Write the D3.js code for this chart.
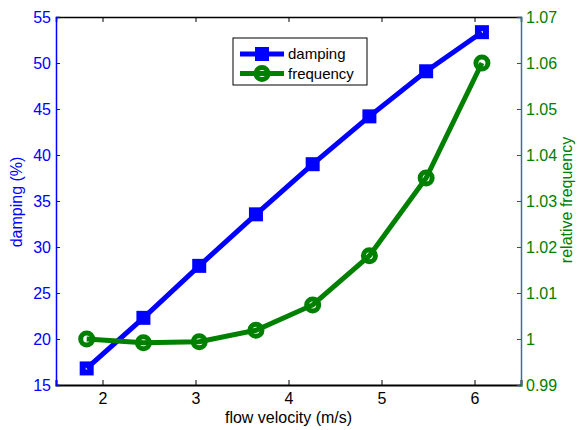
<!DOCTYPE html>
<html>
<head>
<meta charset="utf-8">
<script src="https://cdn.jsdelivr.net/npm/d3@7"></script>
<style>
  body { margin: 0; background: #fff; }
  text { font-family: "Liberation Sans", Arial, sans-serif; }
</style>
</head>
<body>
<div></div>
<script>
// data
var velocity = [1.83, 2.44, 3.04, 3.65, 4.26, 4.87, 5.48, 6.08];
var damping = [16.8, 22.3, 27.95, 33.55, 39.0, 44.2, 49.1, 53.35];
var frequency = [1.0, 0.9992, 0.9994, 1.0019, 1.0074, 1.0181, 1.035, 1.06];
var xTicks = [2, 3, 4, 5, 6];
var leftTicks = [15, 20, 25, 30, 35, 40, 45, 50, 55];
var rightTicks = [0.99, 1, 1.01, 1.02, 1.03, 1.04, 1.05, 1.06, 1.07];

var blue = "#0000ff", green = "#008000";
var W = 577, H = 430;
var m = { left: 56, right: 56, top: 17, bottom: 45 };

var svg = d3.select("div").append("svg").attr("width", W).attr("height", H);

var x = d3.scaleLinear().domain([1.5, 6.5]).range([m.left, W - m.right]);
var yL = d3.scaleLinear().domain([15, 55]).range([H - m.bottom, m.top]);
var yR = d3.scaleLinear().domain([0.99, 1.07]).range([H - m.bottom, m.top]);

var x0 = m.left, x1 = W - m.right, y0 = H - m.bottom, y1 = m.top;

// bottom axis
var bottomAx = svg.append("g").attr("transform", "translate(0," + y0 + ")")
  .call(d3.axisBottom(x).tickValues(xTicks).tickSize(-5).tickPadding(8).tickFormat(d3.format("d")));
bottomAx.select(".domain").attr("stroke", "#000").attr("stroke-width", 2);
bottomAx.selectAll("text").style("font-size", "16px").attr("fill", "#000");

// top axis (ticks only)
var topAx = svg.append("g").attr("transform", "translate(0," + y1 + ")")
  .call(d3.axisTop(x).tickValues(xTicks).tickSize(-5).tickFormat(""));
topAx.select(".domain").attr("stroke", "#000").attr("stroke-width", 1.5);

// left axis
var leftAx = svg.append("g").attr("transform", "translate(" + x0 + ",0)")
  .call(d3.axisLeft(yL).tickValues(leftTicks).tickSize(-4).tickPadding(5).tickFormat(d3.format("d")));
leftAx.select(".domain").attr("stroke", blue).attr("stroke-width", 1.5);
leftAx.selectAll(".tick line").attr("stroke", blue);
leftAx.selectAll("text").style("font-size", "16px").attr("fill", blue);

// right axis
var rightAx = svg.append("g").attr("transform", "translate(" + x1 + ",0)")
  .call(d3.axisRight(yR).tickValues(rightTicks).tickSize(-4).tickPadding(5).tickFormat(function(d) { return String(+d.toFixed(2)); }));
rightAx.select(".domain").attr("stroke", "#3a6ea0").attr("stroke-width", 1.5);
rightAx.selectAll(".tick line").attr("stroke", green);
rightAx.selectAll("text").style("font-size", "16px").attr("fill", green);

// axis titles
svg.append("text").attr("x", (x0 + x1) / 2).attr("y", 423).attr("text-anchor", "middle")
  .style("font-size", "16px").text("flow velocity (m/s)");
svg.append("text").attr("transform", "translate(22,202) rotate(-90)")
  .attr("text-anchor", "middle").style("font-size", "16px").attr("fill", blue).text("damping (%)");
svg.append("text").attr("transform", "translate(572,200) rotate(-90)")
  .attr("text-anchor", "middle").style("font-size", "16px").attr("fill", green).text("relative frequency");

// series
var pts = velocity.map(function(v, i) { return { v: v, d: damping[i], f: frequency[i] }; });

var lineD = d3.line().x(function(p) { return x(p.v); }).y(function(p) { return yL(p.d); });
var lineF = d3.line().x(function(p) { return x(p.v); }).y(function(p) { return yR(p.f); });

svg.append("path").attr("d", lineD(pts)).attr("fill", "none").attr("stroke", blue).attr("stroke-width", 5);
svg.selectAll("rect.sq").data(pts).enter().append("rect").attr("class", "sq")
  .attr("x", function(p) { return x(p.v) - 4; }).attr("y", function(p) { return yL(p.d) - 4; })
  .attr("width", 8).attr("height", 8).attr("fill", "none").attr("stroke", blue).attr("stroke-width", 6);

svg.append("path").attr("d", lineF(pts)).attr("fill", "none").attr("stroke", green).attr("stroke-width", 5);
svg.selectAll("circle.ci").data(pts).enter().append("circle").attr("class", "ci")
  .attr("cx", function(p) { return x(p.v); }).attr("cy", function(p) { return yR(p.f); })
  .attr("r", 6).attr("fill", "none").attr("stroke", green).attr("stroke-width", 5);

// legend
var lg = svg.append("g");
lg.append("rect").attr("x", 233).attr("y", 38).attr("width", 134).attr("height", 47)
  .attr("fill", "#fff").attr("stroke", "#000").attr("stroke-width", 1);
var entries = [
  { name: "damping", color: blue, y: 54, mark: "sq" },
  { name: "frequency", color: green, y: 73.5, mark: "ci" }
];
entries.forEach(function(e) {
  lg.append("line").attr("x1", 240).attr("x2", 284).attr("y1", e.y).attr("y2", e.y)
    .attr("stroke", e.color).attr("stroke-width", 5);
  if (e.mark === "sq") {
    lg.append("rect").attr("x", 258).attr("y", e.y - 4).attr("width", 8).attr("height", 8)
      .attr("fill", "none").attr("stroke", e.color).attr("stroke-width", 6);
  } else {
    lg.append("circle").attr("cx", 262).attr("cy", e.y).attr("r", 6)
      .attr("fill", "none").attr("stroke", e.color).attr("stroke-width", 5);
  }
  lg.append("text").attr("x", 288).attr("y", e.y + 5).style("font-size", "15px").text(e.name);
});
</script>
</body>
</html>
